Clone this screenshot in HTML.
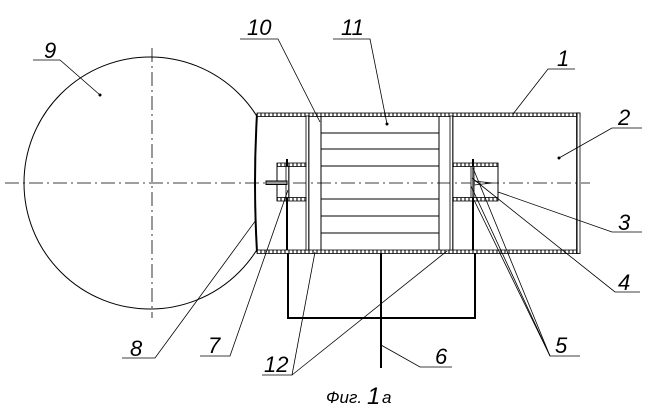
<!DOCTYPE html>
<html><head><meta charset="utf-8"><style>
html,body{margin:0;padding:0;background:#fff;}
svg{display:block}
text{font-family:"Liberation Sans",sans-serif;font-style:italic;fill:#000}
</style></head><body>
<svg width="646" height="408" viewBox="0 0 646 408" xmlns="http://www.w3.org/2000/svg">
<defs>
<pattern id="h" width="4" height="4" patternUnits="userSpaceOnUse">
<rect width="4" height="4" fill="#fff"/><rect x="0" y="0" width="2" height="4" fill="#777"/>
</pattern>
<clipPath id="c"><rect x="0" y="0" width="257" height="408"/></clipPath>
</defs>
<g fill="none" stroke="#000">
<circle cx="150" cy="183" r="126" stroke-width="1" clip-path="url(#c)"/>
<line x1="5" y1="183" x2="590" y2="183" stroke-width="0.8" stroke-dasharray="14,4,2,4"/>
<line x1="152" y1="48" x2="152" y2="318" stroke-width="0.8" stroke-dasharray="14,4,2,4"/>
<path d="M257,114 Q253,183 257,252" stroke-width="2"/>
</g>
<g stroke="#000" stroke-width="0.8" fill="url(#h)">
<rect x="257" y="113" width="323" height="3.5"/>
<rect x="257" y="250" width="323" height="3.5"/>
<rect x="576.5" y="113" width="3.5" height="140.5"/>
<rect x="306" y="116" width="3" height="134"/>
<rect x="450" y="116" width="3" height="134"/>
<rect x="277" y="163" width="29" height="3.5"/>
<rect x="277" y="197.5" width="29" height="3.5"/>
<rect x="286" y="166.5" width="3" height="31"/>
<rect x="453" y="163" width="45" height="3.5"/>
<rect x="453" y="197.5" width="45" height="3.5"/>
<rect x="471" y="166.5" width="3" height="31"/>
</g>
<g fill="none" stroke="#000" stroke-width="1">
<line x1="321" y1="116" x2="321" y2="250"/>
<line x1="439" y1="116" x2="439" y2="250"/>
<line x1="321" y1="133" x2="439" y2="133"/>
<line x1="321" y1="149" x2="439" y2="149"/>
<line x1="321" y1="166" x2="439" y2="166"/>
<line x1="321" y1="199" x2="439" y2="199"/>
<line x1="321" y1="216" x2="439" y2="216"/>
<line x1="321" y1="233" x2="439" y2="233"/>
<line x1="277" y1="163" x2="277" y2="201"/>
<line x1="498" y1="163" x2="498" y2="201"/>
<rect x="266" y="181" width="21" height="3.5" fill="#999"/>
<path d="M474,181 L492,183 L474,185" stroke-width="0.7"/>
</g>
<g fill="none" stroke="#000" stroke-width="2">
<line x1="287" y1="159" x2="287" y2="166"/>
<line x1="473" y1="159" x2="473" y2="166"/>
<line x1="287" y1="198" x2="287" y2="250"/>
<line x1="473" y1="198" x2="473" y2="250"/>
<polyline points="288,253 288,318 475,318 475,253"/>
<line x1="381" y1="253" x2="381" y2="368"/>
</g>
<g fill="none" stroke="#000" stroke-width="0.8">
<polyline points="33,60 60,60 100,95"/>
<polyline points="240,39 278,39 320,122"/>
<polyline points="333,39 370,39 387,124"/>
<polyline points="575,69 548,69 513,114"/>
<polyline points="642,128 612,128 559,158"/>
<polyline points="642,232 612,232 498,192"/>
<polyline points="640,292 615,292 472,178"/>
<polyline points="580,356 550,356 473,168"/>
<line x1="550" y1="356" x2="471" y2="186"/>
<line x1="550" y1="356" x2="474" y2="200"/>
<polyline points="452,367 420,367 381,345"/>
<polyline points="262,375 292,375 315,252"/>
<line x1="292" y1="375" x2="447" y2="251"/>
<polyline points="200,356 230,356 288,190"/>
<polyline points="122,358 155,358 256,220"/>
</g>
<g fill="#000">
<circle cx="100" cy="95" r="1.5"/><circle cx="387" cy="124" r="1.5"/><circle cx="559" cy="158" r="1.5"/>
</g>
<g font-size="22">
<text x="44" y="58">9</text>
<text x="247" y="35">10</text>
<text x="341" y="35">11</text>
<text x="557" y="66">1</text>
<text x="618" y="125">2</text>
<text x="618" y="230">3</text>
<text x="618" y="290">4</text>
<text x="555" y="353">5</text>
<text x="435" y="364">6</text>
<text x="264" y="372">12</text>
<text x="208" y="353">7</text>
<text x="130" y="356">8</text>
</g>
<text x="326" y="403" font-size="17">Фиг.</text>
<text x="367" y="404" font-size="24">1</text>
<text x="382" y="403" font-size="17">a</text>
</svg>
</body></html>
